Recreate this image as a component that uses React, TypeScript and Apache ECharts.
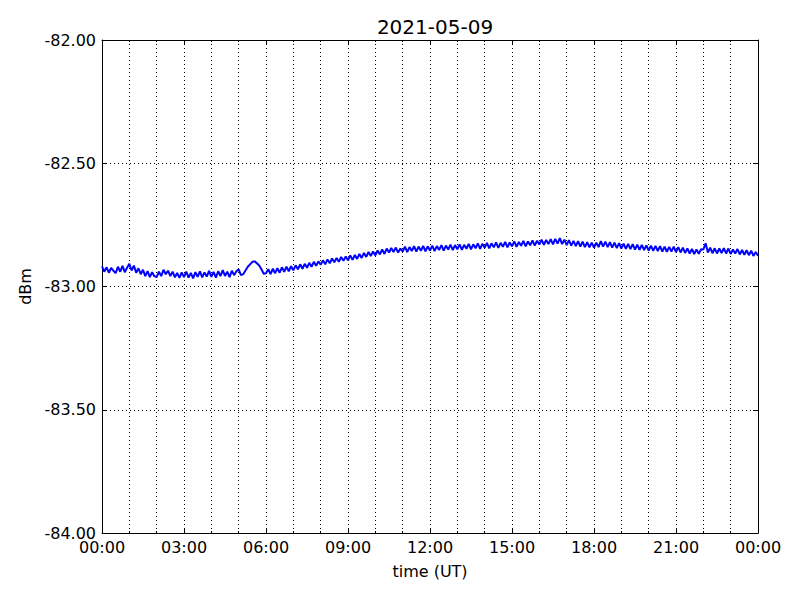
import React, { useEffect, useRef } from "react";
import * as echarts from "echarts";

const TITLE = "2021-05-09";
const X_LABELS = ["00:00", "03:00", "06:00", "09:00", "12:00", "15:00", "18:00", "21:00", "00:00"];
const STEP_MINUTES = 5;
// signal level (dBm), one sample every 5 minutes from 00:00 to 24:00 (12 per row = 1 hour)
const LEVELS = [
  -82.918, -82.940, -82.922, -82.944, -82.925, -82.936, -82.946, -82.920, -82.940, -82.916, -82.942, -82.924,
  -82.908, -82.935, -82.915, -82.944, -82.926, -82.950, -82.932, -82.958, -82.938, -82.962, -82.942, -82.958,
  -82.962, -82.940, -82.958, -82.932, -82.950, -82.936, -82.958, -82.940, -82.963, -82.945, -82.965, -82.943,
  -82.962, -82.940, -82.964, -82.945, -82.967, -82.942, -82.961, -82.939, -82.963, -82.943, -82.960, -82.937,
  -82.961, -82.941, -82.964, -82.938, -82.958, -82.934, -82.957, -82.940, -82.962, -82.936, -82.954, -82.938,
  -82.930, -82.954, -82.950, -82.935, -82.920, -82.910, -82.900, -82.898, -82.906, -82.915, -82.930, -82.948,
  -82.946, -82.930, -82.950, -82.928, -82.946, -82.926, -82.944, -82.922, -82.940, -82.920, -82.938, -82.918,
  -82.934, -82.914, -82.930, -82.910, -82.928, -82.908, -82.924, -82.904, -82.920, -82.900, -82.916, -82.898,
  -82.912, -82.894, -82.910, -82.890, -82.906, -82.886, -82.902, -82.884, -82.900, -82.880, -82.896, -82.878,
  -82.894, -82.874, -82.892, -82.872, -82.888, -82.868, -82.884, -82.864, -82.880, -82.860, -82.876, -82.858,
  -82.874, -82.854, -82.870, -82.850, -82.868, -82.846, -82.862, -82.844, -82.860, -82.842, -82.862, -82.846,
  -82.858, -82.838, -82.860, -82.840, -82.856, -82.836, -82.858, -82.838, -82.855, -82.835, -82.857, -82.837,
  -82.854, -82.834, -82.856, -82.836, -82.852, -82.832, -82.854, -82.834, -82.850, -82.830, -82.852, -82.832,
  -82.849, -82.829, -82.851, -82.831, -82.847, -82.827, -82.849, -82.829, -82.845, -82.825, -82.847, -82.827,
  -82.843, -82.823, -82.845, -82.825, -82.841, -82.821, -82.843, -82.823, -82.839, -82.819, -82.841, -82.821,
  -82.837, -82.817, -82.839, -82.819, -82.835, -82.815, -82.837, -82.817, -82.833, -82.813, -82.834, -82.814,
  -82.830, -82.810, -82.831, -82.811, -82.828, -82.808, -82.829, -82.807, -82.826, -82.804, -82.828, -82.810,
  -82.832, -82.812, -82.834, -82.815, -82.836, -82.816, -82.838, -82.818, -82.840, -82.820, -82.841, -82.822,
  -82.842, -82.822, -82.840, -82.816, -82.838, -82.818, -82.840, -82.820, -82.842, -82.822, -82.844, -82.824,
  -82.846, -82.826, -82.847, -82.827, -82.848, -82.828, -82.850, -82.830, -82.851, -82.831, -82.852, -82.833,
  -82.854, -82.834, -82.855, -82.835, -82.856, -82.836, -82.858, -82.838, -82.859, -82.839, -82.858, -82.838,
  -82.860, -82.840, -82.862, -82.842, -82.864, -82.846, -82.866, -82.848, -82.868, -82.850, -82.867, -82.849,
  -82.850, -82.825, -82.862, -82.842, -82.865, -82.845, -82.866, -82.846, -82.864, -82.844, -82.866, -82.846,
  -82.868, -82.850, -82.866, -82.848, -82.870, -82.852, -82.871, -82.853, -82.873, -82.855, -82.876, -82.860,
  -82.875,
];

const FONT = "DejaVu Sans";

export default function App() {
  const ref = useRef<HTMLDivElement>(null);
  useEffect(() => {
    if (!ref.current) return;
    const chart = echarts.init(ref.current, undefined, { renderer: "svg" });
    const data = LEVELS.map((v, i) => [(i * STEP_MINUTES) / 60, v]);
    const gridLine = { show: true, lineStyle: { color: "#000", width: 1, type: [1, 3] as any } };
    const axisLine = { show: true, onZero: false, lineStyle: { color: "#000", width: 1 } };
    chart.setOption({
      animation: false,
      backgroundColor: "#fff",
      title: {
        text: TITLE,
        left: 430,
        top: 12,
        textAlign: "center",
        textStyle: { fontFamily: FONT, fontSize: 20, fontWeight: "normal", color: "#000" },
      },
      grid: { left: 102, right: 42, top: 40, bottom: 67, containLabel: false },
      xAxis: [
        {
          type: "value",
          min: 0,
          max: 24,
          interval: 3,
          name: "time (UT)",
          nameLocation: "middle",
          nameGap: 30,
          nameTextStyle: { fontFamily: FONT, fontSize: 16, color: "#000" },
          axisLine,
          axisTick: { show: true, inside: true, length: 5, lineStyle: { color: "#000" } },
          minorTick: { show: true, splitNumber: 3, length: 2, lineStyle: { color: "#000" } },
          splitLine: gridLine,
          minorSplitLine: gridLine,
          axisLabel: {
            fontFamily: FONT,
            fontSize: 16,
            color: "#000",
            margin: 6,
            formatter: (v: number) => X_LABELS[Math.round(v / 3)] ?? "",
          },
        },
        {
          type: "value",
          position: "top",
          min: 0,
          max: 24,
          interval: 3,
          axisLine,
          axisTick: { show: true, inside: true, length: 5, lineStyle: { color: "#000" } },
          minorTick: { show: true, splitNumber: 3, length: 2, lineStyle: { color: "#000" } },
          splitLine: { show: false },
          axisLabel: { show: false },
        },
      ],
      yAxis: [
        {
          type: "value",
          min: -84,
          max: -82,
          interval: 0.5,
          name: "dBm",
          nameLocation: "middle",
          nameGap: 68,
          nameRotate: 90,
          nameTextStyle: { fontFamily: FONT, fontSize: 16, color: "#000" },
          axisLine,
          axisTick: { show: true, inside: true, length: 5, lineStyle: { color: "#000" } },
          splitLine: gridLine,
          axisLabel: {
            fontFamily: FONT,
            fontSize: 16,
            color: "#000",
            margin: 6,
            formatter: (v: number) => v.toFixed(2),
          },
        },
        {
          type: "value",
          position: "right",
          min: -84,
          max: -82,
          interval: 0.5,
          axisLine,
          axisTick: { show: true, inside: true, length: 5, lineStyle: { color: "#000" } },
          splitLine: { show: false },
          axisLabel: { show: false },
        },
      ],
      series: [
        {
          type: "line",
          data,
          xAxisIndex: 0,
          yAxisIndex: 0,
          showSymbol: false,
          symbol: "none",
          lineStyle: { color: "#0000ff", width: 2 },
        },
      ],
    });
    return () => chart.dispose();
  }, []);
  return <div ref={ref} style={{ width: 800, height: 600, position: "absolute", left: 0, top: 0 }} />;
}
